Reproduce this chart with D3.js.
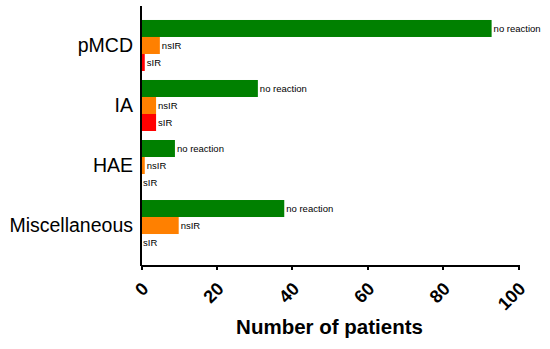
<html>
<meta charset="utf-8">
<style>
  body { margin: 0; background: #fff; }
  .axis path, .axis line { fill: none; stroke: black; stroke-width: 2px; shape-rendering: crispEdges; }
  text { font-family: "Liberation Sans", Arial, sans-serif; }
</style>
<body>
<script src="https://cdn.jsdelivr.net/npm/d3@7"></script>
<script>
var categories = ["pMCD", "IA", "HAE", "Miscellaneous"];
var series = ["no reaction", "nsIR", "sIR"];
var noReaction = [93, 31, 9, 38];
var nsIR = [5, 4, 1, 10];
var sIR = [1, 4, 0, 0];
var colors = ["#008000", "#ff8000", "#ff0000"];
var xTicks = [0, 20, 40, 60, 80, 100];

var values = [noReaction, nsIR, sIR];
var width = 550, height = 349;
var margin = { top: 6, left: 141, right: 32, bottom: 84 };

var svg = d3.select("body").append("svg")
  .attr("width", width).attr("height", height);

var x = d3.scaleLinear().domain([0, 100]).range([margin.left, width - margin.right]);
var y = d3.scaleBand().domain(categories)
  .range([margin.top, height - margin.bottom])
  .paddingInner(0.15).paddingOuter(0.233);
var ySub = d3.scaleBand().domain(series).range([0, y.bandwidth()]);

var groups = svg.selectAll("g.grp").data(categories).enter().append("g")
  .attr("class", "grp")
  .attr("transform", function(d){ return "translate(0," + y(d) + ")"; });

groups.each(function(cat, ci){
  var g = d3.select(this);
  series.forEach(function(s, si){
    var v = values[si][ci];
    g.append("rect")
      .attr("x", x(0))
      .attr("y", ySub(s))
      .attr("width", x(v) - x(0))
      .attr("height", ySub.bandwidth())
      .attr("fill", colors[si]);
    g.append("text")
      .attr("x", x(v) + 2)
      .attr("y", ySub(s) + ySub.bandwidth() / 2)
      .attr("dy", "0.35em")
      .attr("font-size", "9.5px")
      .text(s);
  });
});

// category labels
svg.selectAll("text.cat").data(categories).enter().append("text")
  .attr("class", "cat")
  .attr("x", x(0) - 8)
  .attr("y", function(d){ return y(d) + y.bandwidth() / 2; })
  .attr("dy", "0.35em")
  .attr("text-anchor", "end")
  .attr("font-size", "19.5px")
  .text(function(d){ return d; });

// y axis line
svg.append("line")
  .attr("x1", x(0)).attr("x2", x(0))
  .attr("y1", margin.top).attr("y2", height - margin.bottom + 1)
  .attr("stroke", "black").attr("stroke-width", 2);

var xAxis = d3.axisBottom(x).tickValues(xTicks).tickSize(5).tickSizeOuter(0);
var gx = svg.append("g").attr("class", "axis")
  .attr("transform", "translate(0," + (height - margin.bottom) + ")")
  .call(xAxis);
gx.selectAll("text")
  .attr("font-size", "18px")
  .attr("font-weight", "bold")
  .attr("fill", "black")
  .attr("text-anchor", "end")
  .attr("dy", null)
  .attr("y", 0)
  .attr("transform", "translate(8,25) rotate(-45)");

svg.append("text")
  .attr("x", (x(0) + x(100)) / 2)
  .attr("y", 334)
  .attr("text-anchor", "middle")
  .attr("font-size", "20.5px")
  .attr("font-weight", "bold")
  .text("Number of patients");
</script>
</body>
</html>
